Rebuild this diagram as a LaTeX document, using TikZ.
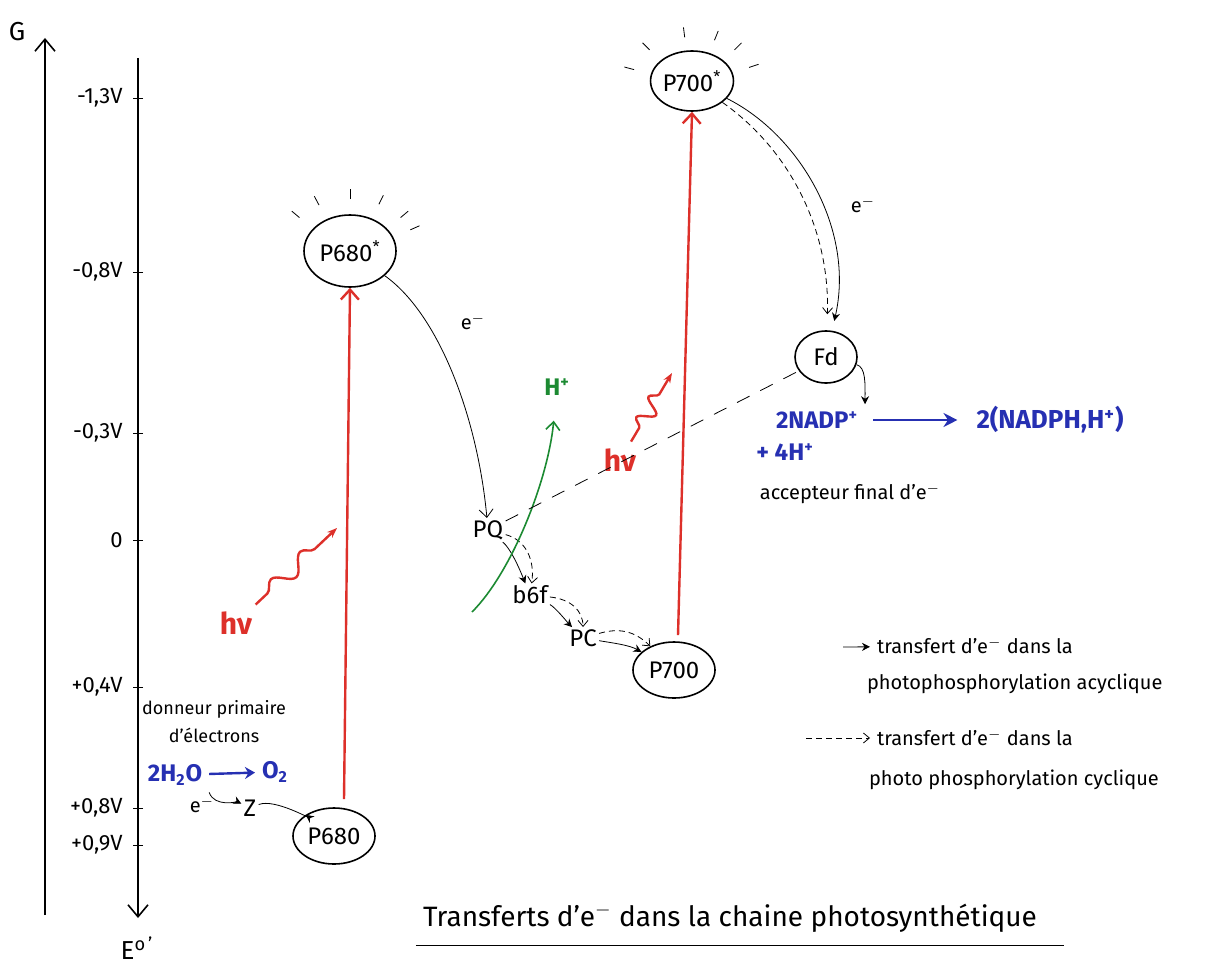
\documentclass[tikz,border=0pt]{standalone}
\usepackage{fontspec}
\setmainfont{Fira Sans}
\usetikzlibrary{arrows.meta,shapes.geometric,decorations.pathmorphing}
\definecolor{penred}{RGB}{221,48,42}
\definecolor{penblue}{RGB}{38,48,178}
\definecolor{pengreen}{RGB}{28,138,50}
\tikzset{
	pigment/.style={ellipse, draw, thick, inner sep=0pt, font=\fontsize{12}{14}\selectfont},
	carrier/.style={inner sep=1pt, font=\fontsize{12}{14}\selectfont},
	light/.style={penred, very thick, -{Straight Barb[length=5pt,width=9pt]}},
	photon/.style={penred, very thick, -{Stealth[length=5pt]}, decorate,
		decoration={snake, amplitude=4pt, segment length=#1, pre length=8pt, post length=10pt}},
	acyc/.style={-{Stealth[length=4pt,width=4pt]}},
	cyc/.style={dash pattern=on 3pt off 2pt, -{Straight Barb[length=3pt,width=5pt]}},
	chem/.style={penblue, font=\bfseries\fontsize{12}{14}\selectfont},
	hnu/.style={penred, font=\bfseries\fontsize{15}{17}\selectfont}
}
\begin{document}
\begin{tikzpicture}[x=0.5pt, y=-0.5pt, font=\fontsize{10}{12}\selectfont]
	\useasboundingbox (0,0) rectangle (1229,963);
	%axis
	\coordinate (g low) at (45,915);
	\coordinate (g high) at (45,38);
	\draw[thick, -{Straight Barb[length=6pt,width=10pt]}] (g low) -- (g high);
	\node (G) at (17,32) {\fontsize{13}{15}\selectfont G};
	\coordinate (e high) at (138,58);
	\coordinate (e low) at (138,918);
	\draw[thick, -{Straight Barb[length=6pt,width=10pt]}] (e high) -- (e low);
	\node (E) at (137,948) {\fontsize{13}{15}\selectfont E\textsuperscript{o\,'}};
	%ticks
	\foreach \y/\lab in {98/{-1,3V}, 272/{-0,8V}, 433/{-0,3V}, 540/{0}, 687/{+0,4V}, 808/{+0,8V}, 845/{+0,9V}}
	\draw (143,\y) -- (133,\y)
	node[anchor=east, inner sep=5pt, font=\fontsize{11}{13}\selectfont] (tick\y) {\lab};
	
	%photosystem II
	\node[pigment, minimum width=46pt, minimum height=36pt] (p680s) at (350,251) {P680\textsuperscript{*}};
	\node[pigment, minimum width=41pt, minimum height=28pt] (p680) at (334,836) {P680};
	\foreach \a in {140,118,90,64,40,24}
	\draw ([shift={({33pt*cos(\a)},{26pt*sin(\a)})}]p680s.center) -- ++(\a:5pt);
	\draw[light] ([xshift=5pt,yshift=4pt]p680.north) -- (p680s.south);
	\node[hnu] (hv1) at (236,623) {hν};
	\coordinate (hv1 end) at (337,528);
	\draw[photon=20pt] (hv1) -- (hv1 end);
	
	%water side
	\node[align=center, font=\fontsize{9}{14}\selectfont] (donor) at (214,722) {donneur primaire\\d'électrons};
	\node[chem] (h2o) at (175,775) {2H\textsubscript{2}O};
	\node[chem] (o2) at (275,772) {O\textsubscript{2}};
	\draw[penblue, very thick, -{Stealth[length=5pt,width=6pt]}] (h2o) -- (o2);
	\node (e0) at (202,805) {e$^-$};
	\node[carrier] (z) at (250,808) {Z};
	\draw[acyc] (h2o.south east) .. controls +(5,15) and +(-12,-6) .. (z);
	\draw[acyc] (z) .. controls +(25,-10) and +(-20,-15) .. (p680);
	
	%chain between the two photosystems
	\node[carrier] (pq) at (488,530) {PQ};
	\node[carrier] (b6f) at (530,595) {b6f};
	\node[carrier] (pc) at (583,638) {PC};
	\draw[-{Straight Barb[length=4pt,width=7pt]}] (p680s) .. controls (440,315) and (478,420) .. (pq);
	\node (e1) at (473,322) {e$^-$};
	\draw[acyc] (pq) .. controls +(22,18) and +(-12,-30) .. (b6f);
	\draw[cyc] (pq) .. controls +(38,10) and +(5,-35) .. (b6f);
	\draw[acyc] (b6f) .. controls +(25,12) and +(-15,-15) .. (pc);
	\draw[cyc] (b6f) .. controls +(40,4) and +(0,-28) .. (pc);
	
	%proton pumping
	\node[pengreen, font=\bfseries\fontsize{12}{14}\selectfont] (hplus) at (557,387) {H\textsuperscript{+}};
	\coordinate (lumen) at (472,612);
	\draw[pengreen, thick, shorten >=9pt, -{Straight Barb[length=4pt,width=7pt]}] (lumen) .. controls (512,572) and (548,480) .. (hplus);
	
	%photosystem I
	\node[pigment, minimum width=41pt, minimum height=28pt] (p700) at (674,670) {P700};
	\node[pigment, minimum width=39pt, minimum height=30pt] (p700s) at (692,81) {P700\textsuperscript{*}};
	\foreach \a in {165,135,97,68,45,18}
	\draw ([shift={({30pt*cos(\a)},{22pt*sin(\a)})}]p700s.center) -- ++(\a:5pt);
	\draw[acyc] (pc) .. controls +(30,5) and +(-45,-25) .. (p700);
	\draw[cyc] (pc) .. controls +(35,-10) and +(-40,-40) .. (p700);
	\draw[light] ([xshift=2pt,yshift=3pt]p700.north) -- (p700s.south);
	\node[hnu] (hv2) at (620,460) {hν};
	\coordinate (hv2 end) at (672,373);
	\draw[photon=12pt] (hv2) -- (hv2 end);
	
	%ferredoxin and NADP+
	\node[pigment, minimum width=31pt, minimum height=26pt] (fd) at (826,357) {Fd};
	\draw[acyc, shorten >=5pt] (p700s) .. controls (800,135) and (855,230) .. (fd);
	\draw[cyc, shorten >=8pt] (p700s) .. controls (790,150) and (830,230) .. (fd);
	\node (e2) at (863,205) {e$^-$};
	\draw[dash pattern=on 7pt off 6pt] (pq) -- (fd);
	\node[chem] (nadp) at (817,420) {2NADP\textsuperscript{+}};
	\node[chem] (h4) at (785,452) {+ 4H\textsuperscript{+}};
	\node[chem, font=\bfseries\fontsize{13}{15}\selectfont] (nadph) at (1050,420) {2(NADPH,H\textsuperscript{+})};
	\draw[acyc] (fd) .. controls +(40,10) and +(0,-20) .. (nadp.north east);
	\draw[penblue, very thick, shorten <=4pt, shorten >=6pt, -{Stealth[length=7pt,width=7pt]}] (nadp) -- (nadph);
	\node (accept) at (850,494) {accepteur final d'e$^-$};
	
	%legend
	\node[anchor=west] (leg1) at (870,646) {transfert d'e$^-$ dans la};
	\node[anchor=west] (leg1b) at (860,684) {photophosphorylation acyclique};
	\coordinate (leg1 tail) at (843,647);
	\draw[acyc] (leg1 tail) -- (leg1);
	\node[anchor=west] (leg2) at (870,738) {transfert d'e$^-$ dans la};
	\node[anchor=west] (leg2b) at (862,780) {photo phosphorylation cyclique};
	\coordinate (leg2 tail) at (806,738);
	\draw[cyc] (leg2 tail) -- (leg2);
	
	%title
	\node (title) at (730,918) {\fontsize{14}{16}\selectfont Transferts d'e$^-$ dans la chaine photosynthétique};
	\draw ([yshift=-3pt]title.south west) -- ([xshift=10pt,yshift=-3pt]title.south east);
\end{tikzpicture}
\end{document}
